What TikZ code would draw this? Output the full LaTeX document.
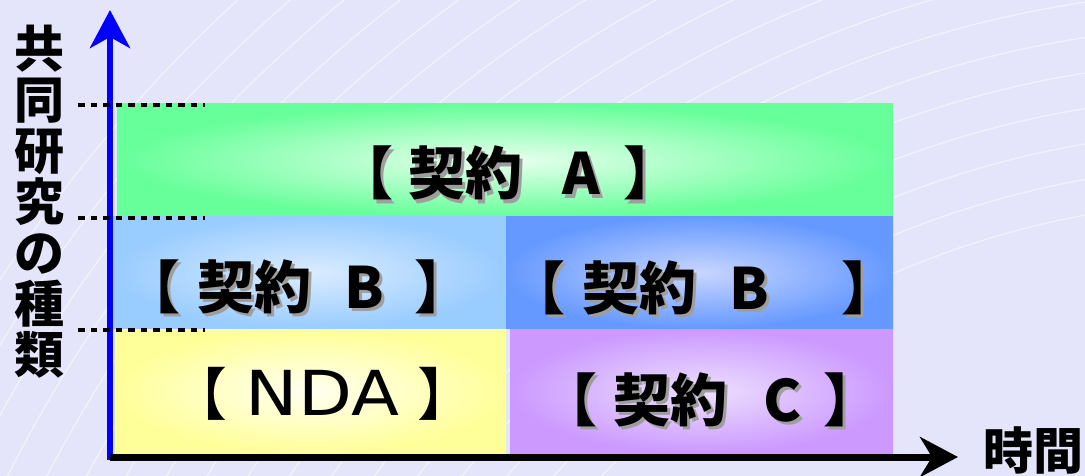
\documentclass[tikz,border=0pt]{standalone}
\usepackage{fontspec}
\newfontfamily\jp{Noto Sans CJK JP}
\newfontfamily\dvw[FakeStretch=1.13]{DejaVu Sans}
\usetikzlibrary{arrows.meta}
\definecolor{bg}{RGB}{228,228,250}
\definecolor{gA}{RGB}{102,255,153}
\definecolor{gAc}{RGB}{232,255,238}
\definecolor{bL}{RGB}{153,204,255}
\definecolor{bLc}{RGB}{218,236,255}
\definecolor{bR}{RGB}{102,153,255}
\definecolor{bRc}{RGB}{200,214,255}
\definecolor{yN}{RGB}{255,255,153}
\definecolor{yNc}{RGB}{255,255,240}
\definecolor{pC}{RGB}{204,153,255}
\definecolor{pCc}{RGB}{236,224,255}
\newcommand\shtext[1]{\makebox[0pt][l]{\hspace{3pt}\raisebox{-3pt}{\color{black!38}#1}}#1}
\tikzset{
  lbl/.style={font=\jp\bfseries\fontsize{57}{60}\selectfont, inner sep=0pt, text=black, anchor=base},
  dotline/.style={line width=4pt, dash pattern=on 6.5pt off 6pt},
  axislbl/.style={font=\jp\bfseries\fontsize{50}{51}\selectfont, inner sep=0pt, align=center},
}
\begin{document}
\begin{tikzpicture}[x=1pt,y=-1pt]
\useasboundingbox (0,0) rectangle (1085,476);
\fill[bg] (0,0) rectangle (1085,476);
\begin{scope}
\clip (0,0) rectangle (1085,476);
\foreach \r in {900,935,...,1500}
  \draw[white, opacity=.55, line width=1.3pt] (1250,1100) circle[radius=\r];
\end{scope}
% boxes
\shade[inner color=gAc, outer color=gA] (117,104) rectangle (893,216.5);
\shade[inner color=bLc, outer color=bL] (113,216.5) rectangle (506,328.5);
\shade[inner color=bRc, outer color=bR] (506,216.5) rectangle (893,328.5);
\shade[inner color=yNc, outer color=yN] (115,329.5) rectangle (506,453);
\shade[inner color=pCc, outer color=pC] (510,329.5) rectangle (893,453);
% axes
\coordinate (o) at (110,457);
\coordinate (ytop) at (110,10);
\coordinate (xend) at (958,457);
\draw[blue, line width=6.5pt, -{Stealth[length=38pt,width=40pt,inset=11pt]}] ([yshift=-3pt]o) -- (ytop);
\draw[black, line width=7pt, -{Stealth[length=38pt,width=40pt,inset=12pt]}] (o) -- (xend);
% dotted guides
\coordinate (d1a) at (78,105); \coordinate (d1b) at (205,105);
\coordinate (d2a) at (78,217.5); \coordinate (d2b) at (205,217.5);
\coordinate (d3a) at (78,329.5); \coordinate (d3b) at (205,329.5);
\draw[dotline] (d1a) -- (d1b);
\draw[dotline] (d2a) -- (d2b);
\draw[dotline] (d3a) -- (d3b);
% axis labels
\node[axislbl] (ylab) at (40,202) {共\\同\\研\\究\\の\\種\\類};
\node[axislbl] (xlab) at (1033,450) {時間};
% box texts
\node[lbl] (a) at (508.5,195) {\shtext{【\hspace{15pt}契約\hspace{40pt}A\hspace{24pt}】}};
\node[lbl] (b1) at (297.5,308) {\shtext{【\hspace{17pt}契約\hspace{33pt}B\hspace{30pt}】}};
\node[lbl] (b2) at (703.5,309) {\shtext{【\hspace{17pt}契約\hspace{33pt}B\hspace{73pt}】}};
\node[lbl, font=\jp\fontsize{57}{60}\selectfont] (n) at (322.5,415) {【\hspace{18pt}{\dvw\fontsize{62}{60}\selectfont NDA}\hspace{18pt}】};
\node[lbl] (c) at (711,421) {\shtext{【\hspace{16pt}契約\hspace{36pt}C\hspace{22pt}】}};
\end{tikzpicture}
\end{document}
